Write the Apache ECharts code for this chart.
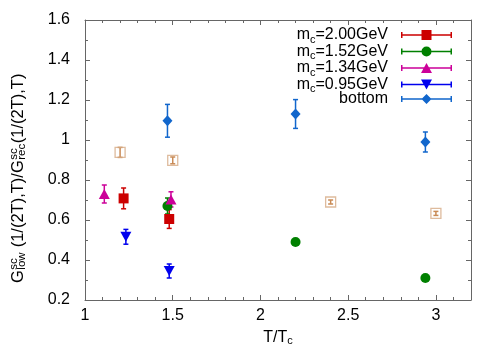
<!DOCTYPE html>
<html>
<head>
<meta charset="utf-8">
<script src="https://cdn.jsdelivr.net/npm/echarts@6/dist/echarts.min.js"></script>
<style>
  html, body { margin: 0; padding: 0; background: #fff; }
  #chart { width: 500px; height: 350px; }
</style>
</head>
<body>
<div id="chart"></div>
<script>
// T/Tc positions, ratio values and errors per mass
const t200 = [1.22, 1.48]
const g200 = [0.708, 0.605]
const e200 = [0.052, 0.047]

const t152 = [1.47, 2.20, 2.94]
const g152 = [0.670, 0.490, 0.310]
const e152 = [0.040, 0.004, 0.014]

const t134 = [1.11, 1.49]
const g134 = [0.730, 0.703]
const e134 = [0.045, 0.038]

const t095 = [1.233, 1.48]
const g095 = [0.516, 0.345]
const e095 = [0.037, 0.035]

const tBottom = [1.47, 2.20, 2.94]
const gBottom = [1.096, 1.130, 0.990]
const eBottom = [0.082, 0.072, 0.050]

// open squares without legend entry
const tOpen = [1.20, 1.50, 2.40, 3.00]
const gOpen = [0.938, 0.898, 0.690, 0.633]
const eOpen = [0.025, 0.017, 0.010, 0.010]

const xTickLabels = ['1', '1.5', '2', '2.5', '3']

const FONT = 'Liberation Sans'

function toData(xs, ys, es) {
  return xs.map((x, i) => [x, ys[i], ys[i] - es[i], ys[i] + es[i]])
}

// error bar with small caps
function errorBar(params, api) {
  const x = api.value(0)
  const lo = api.coord([x, api.value(2)])
  const hi = api.coord([x, api.value(3)])
  const cap = 2.5
  const style = { stroke: api.visual('color'), lineWidth: 1.5, fill: null }
  return {
    type: 'group',
    children: [
      { type: 'line', shape: { x1: lo[0], y1: lo[1], x2: hi[0], y2: hi[1] }, style },
      { type: 'line', shape: { x1: lo[0] - cap, y1: lo[1], x2: lo[0] + cap, y2: lo[1] }, style },
      { type: 'line', shape: { x1: hi[0] - cap, y1: hi[1], x2: hi[0] + cap, y2: hi[1] }, style }
    ]
  }
}

// legend icons: line + caps + marker, in a 51x10 box
const barPath = 'M0 4.25 H51 V5.75 H0 Z M0 2 H1.5 V8 H0 Z M49.5 2 H51 V8 H49.5 Z '
const icons = {
  square: 'path://' + barPath + 'M20.5 0 H30.5 V10 H20.5 Z',
  circle: 'path://' + barPath + 'M20.5 5 A5 5 0 1 1 30.5 5 A5 5 0 1 1 20.5 5 Z',
  up: 'path://' + barPath + 'M25.5 0 L31 10 H20 Z',
  down: 'path://' + barPath + 'M20 0 H31 L25.5 10 Z',
  diamond: 'path://' + barPath + 'M25.5 0 L30.5 5 L25.5 10 L20.5 5 Z'
}

const groups = [
  { name: 'm_c=2.00GeV', t: t200, g: g200, e: e200, color: '#cc0000', symbol: 'rect', size: 10, rot: 0, icon: icons.square },
  { name: 'm_c=1.52GeV', t: t152, g: g152, e: e152, color: '#008000', symbol: 'circle', size: 10, rot: 0, icon: icons.circle },
  { name: 'm_c=1.34GeV', t: t134, g: g134, e: e134, color: '#cc0099', symbol: 'triangle', size: [11, 10], rot: 0, icon: icons.up },
  { name: 'm_c=0.95GeV', t: t095, g: g095, e: e095, color: '#0000ee', symbol: 'triangle', size: [11, 10], rot: 180, icon: icons.down },
  { name: 'bottom', t: tBottom, g: gBottom, e: eBottom, color: '#1166cc', symbol: 'diamond', size: [10, 11], rot: 0, icon: icons.diamond }
]

const series = []
// open squares first so they sit underneath
series.push({
  type: 'custom', name: 'open', renderItem: errorBar, z: 2,
  itemStyle: { color: '#c98a55' },
  data: toData(tOpen, gOpen, eOpen)
})
series.push({
  type: 'scatter', name: 'open', symbol: 'rect', symbolSize: 10, z: 3,
  itemStyle: { color: 'rgba(0,0,0,0)', borderColor: '#d6aa84', borderWidth: 1.3 },
  data: toData(tOpen, gOpen, eOpen)
})
groups.forEach(gr => {
  series.push({
    type: 'custom', name: gr.name, renderItem: errorBar, z: 4,
    itemStyle: { color: gr.color },
    data: toData(gr.t, gr.g, gr.e)
  })
  series.push({
    type: 'scatter', name: gr.name, symbol: gr.symbol, symbolSize: gr.size, symbolRotate: gr.rot, z: 5,
    itemStyle: { color: gr.color, opacity: 1 },
    data: toData(gr.t, gr.g, gr.e)
  })
})

// y title built from pieces so "sc" sits over "low"/"rec"
const ctx = document.createElement('canvas').getContext('2d')
function textW(s, size) {
  ctx.font = size + 'px "' + FONT + '"'
  return ctx.measureText(s).width
}
const mainSize = 16.5
const smallSize = 11.5
const titleParts = [
  ['G', 'main'], ['sc', 'sup'], ['low', 'sub'],
  [' (1/(2T),T)/G', 'main'], ['sc', 'sup'], ['rec', 'sub'],
  ['(1/(2T),T)', 'main']
]
const titleChildren = []
let cx = 0
titleParts.forEach(([s, kind], i) => {
  const size = kind === 'main' ? mainSize : smallSize
  const dy = kind === 'sup' ? -4.5 : kind === 'sub' ? 4 : 0
  titleChildren.push({
    type: 'text', x: cx, y: dy,
    style: { text: s, fontFamily: FONT, fontSize: size, fill: '#000', align: 'left', verticalAlign: 'middle' }
  })
  if (kind === 'sup') return // stack the next subscript under it
  if (kind === 'sub') {
    cx += Math.max(textW(s, smallSize), textW(titleParts[i - 1][0], smallSize)) + 0.5
  } else {
    cx += textW(s, mainSize) + 0.5
  }
})

const axisGray = '#666'
const baseX = {
  type: 'value', min: 1, max: 3.2, gridIndex: 0,
  splitLine: { show: false },
  axisLine: { show: false },
  axisLabel: { show: false },
  axisTick: { inside: true, length: 3, lineStyle: { color: axisGray } }
}

const chart = echarts.init(document.getElementById('chart'))
chart.setOption({
  animation: false,
  textStyle: { fontFamily: FONT },
  grid: { left: 85, right: 29, top: 20, bottom: 50, outerBoundsMode: 'none', containLabel: false },
  graphic: [{
    type: 'group', x: 18, y: 283, rotation: Math.PI / 2,
    children: titleChildren
  }],
  legend: {
    right: 48, top: 25, orient: 'vertical', align: 'right',
    padding: 0, itemGap: -3.5, itemWidth: 51, itemHeight: 10,
    selectedMode: false,
    data: groups.map(gr => ({ name: gr.name, icon: gr.icon })),
    formatter: name => name.indexOf('m_c') === 0 ? '{n|m}{sub|c}{n|' + name.slice(3) + '}' : '{n|' + name + '}',
    textStyle: {
      fontFamily: FONT, fontSize: 16, color: '#000', padding: [0, 8, 0, 0],
      rich: {
        n: { fontFamily: FONT, fontSize: 16, color: '#000', lineHeight: 20, verticalAlign: 'middle' },
        sub: { fontFamily: FONT, fontSize: 11, color: '#000', lineHeight: 11, verticalAlign: 'top', padding: [9, 0, 0, 0] }
      }
    }
  },
  xAxis: [
    Object.assign({}, baseX, {
      position: 'bottom', interval: 0.5,
      axisLine: { show: true, lineStyle: { color: axisGray, width: 1 } },
      axisTick: { inside: true, length: 5, lineStyle: { color: axisGray } },
      axisLabel: {
        show: true, margin: 8, fontFamily: FONT, fontSize: 16, color: '#000', showMaxLabel: false,
        formatter: v => xTickLabels[Math.round((v - 1) / 0.5)] || ''
      },
      name: 'T/T{sub|c}', nameLocation: 'middle', nameGap: 23,
      nameTextStyle: {
        fontFamily: FONT, fontSize: 16, color: '#000', lineHeight: 18,
        rich: { sub: { fontFamily: FONT, fontSize: 11, verticalAlign: 'bottom', lineHeight: 8 } }
      }
    }),
    Object.assign({}, baseX, { position: 'bottom', interval: 0.1 }),
    Object.assign({}, baseX, {
      position: 'top', interval: 0.5,
      axisLine: { show: true, lineStyle: { color: axisGray, width: 1 } },
      axisTick: { inside: true, length: 5, lineStyle: { color: axisGray } }
    }),
    Object.assign({}, baseX, { position: 'top', interval: 0.1 })
  ],
  yAxis: [
    {
      type: 'value', position: 'left', min: 0.2, max: 1.6, interval: 0.2,
      splitLine: { show: false },
      axisLine: { show: true, lineStyle: { color: axisGray, width: 1 } },
      axisTick: { inside: true, length: 5, lineStyle: { color: axisGray } },
      minorTick: { show: true, splitNumber: 2, length: 3, lineStyle: { color: axisGray } },
      axisLabel: { margin: 15, fontFamily: FONT, fontSize: 16, color: '#000' }
    },
    {
      type: 'value', position: 'right', min: 0.2, max: 1.6, interval: 0.2,
      splitLine: { show: false },
      axisLine: { show: true, lineStyle: { color: axisGray, width: 1 } },
      axisTick: { inside: true, length: 5, lineStyle: { color: axisGray } },
      minorTick: { show: true, splitNumber: 2, length: 3, lineStyle: { color: axisGray } },
      axisLabel: { show: false }
    }
  ],
  series: series
})
</script>
</body>
</html>
